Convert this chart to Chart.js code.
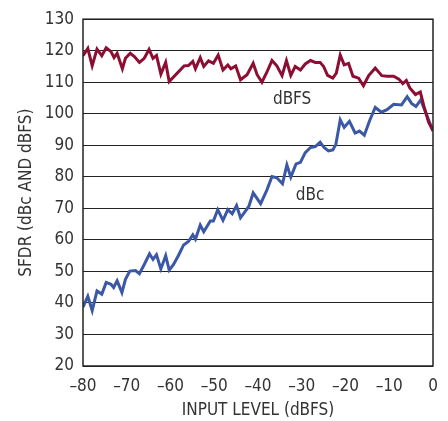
<!DOCTYPE html>
<html>
<head>
<meta charset="utf-8">
<script src="https://cdn.jsdelivr.net/npm/chart.js@4/dist/chart.umd.min.js"></script>
<style>
  html, body { margin: 0; padding: 0; background: #fff; }
  #wrap { width: 448px; height: 421px; }
</style>
</head>
<body>
<div id="wrap"><canvas id="sfdrChart" width="448" height="421"></canvas></div>
<script>
// values (input level in dBFS, SFDR in dB)
const dbfsX = [-80, -78.9, -77.9, -76.8, -75.7, -74.7, -73.6, -72.9, -72.2, -71, -70.3, -69.2, -68.2, -67.1, -66, -64.9, -64, -63.2, -62.2, -61.1, -60.3,
  -56.9, -55.9, -54.9, -54.3, -53.2, -52.4, -51.3, -50.2, -49.1, -48, -46.9, -46.2, -45.1, -44, -42.5, -41.1, -40.2, -39.1, -38, -36.8, -35.7,
  -34.5, -33.5, -32.5, -31.5, -30.3, -29.2, -28, -26.9, -25.8, -25, -24.1, -22.9, -22.1, -21.2, -20.3, -19.3, -18.3, -17, -15.9, -14.7,
  -13.2, -11.7, -10.5, -9, -7.8, -6.9, -6.1, -5.3, -4, -2.9, -2.1, -1, 0];
const dbfsY = [118.4, 120.7, 115.2, 120.5, 118.4, 120.9, 119.7, 117.8, 119.2, 114.3, 117.6, 119.2, 118.1, 116.3, 117.6, 120.4, 117.6, 118.5, 112.6, 116.3, 110.2,
  115.2, 115.3, 116.6, 114.3, 117.8, 115, 116.8, 116, 118.6, 113.9, 115.5, 114.3, 115.2, 110.8, 112.4, 116, 112.4, 110, 113.1, 116.9, 115.2,
  112.1, 116.9, 112.2, 115, 113.9, 115.8, 116.9, 116.3, 116.3, 115, 112.2, 111.3, 112.9, 118.6, 115.5, 116, 111.9, 111.3, 108.9, 112.1,
  114.5, 112.1, 111.9, 111.9, 111, 109.6, 110.6, 108.2, 106.1, 106.9, 102.5, 97.3, 94.7];

const dbcX = [-80, -78.9, -77.9, -76.8, -75.7, -74.7, -73.6, -73, -72.2, -71.1, -70.3, -69.3, -68, -67.1, -66, -64.8, -64, -63.2, -62.2, -61.1, -60.3,
  -59.3, -58.1, -57, -55.9, -54.9, -54.3, -53.2, -52.4, -50.9, -50.2, -49.2, -48, -46.9, -45.9, -44.9, -44, -42.1, -41.1, -39.4, -38, -36.8,
  -35.7, -34.4, -33.4, -32.5, -31.3, -30.3, -29.2, -28, -26.9, -25.8, -24.9, -23.9, -22.9, -22.2, -21.2, -20.3, -19.1, -17.8, -16.8, -15.7,
  -14.5, -13.2, -11.8, -10.5, -9, -7.2, -5.9, -4.9, -3.9, -2.8, 0];
const dbcY = [38.7, 42.1, 37.6, 43.8, 42.8, 46.5, 45.9, 44.9, 47, 43.3, 47.5, 50.1, 50.3, 49.3, 52.2, 55.6, 53.8, 55.3, 50.8, 55, 50.4,
  52.2, 55.3, 58.4, 59.5, 61.6, 60.2, 64.7, 62.6, 66, 66, 69.6, 66.2, 69.6, 68.3, 70.9, 67, 70.6, 74.9, 71.5, 75.7, 80.1,
  79.7, 77.8, 83.8, 79.9, 84.1, 84.6, 87.7, 89.3, 89.6, 91, 89.3, 88.2, 88.5, 90.3, 98.1, 95.7, 97.6, 93.9, 94.5, 93.2,
  97.8, 102, 100.5, 101.3, 103, 102.8, 105.4, 103.3, 102.3, 104.4, 94.5];

// series labels placed in data units
const seriesLabels = [
  { text: "dBFS", x: -32.2, y: 104.6 },
  { text: "dBc", x: -28.1, y: 74.2 }
];

const FONT = "'Liberation Sans Narrow', 'DejaVu Sans Condensed', 'Arial Narrow', sans-serif";
const TEXT = "#333";

const toPoints = (xs, ys) => xs.map((x, i) => ({ x: x, y: ys[i] }));

// box around plot + in-plot series names
const frameAndLabels = {
  id: "frameAndLabels",
  afterDatasetsDraw(chart) {
    const { ctx, chartArea: a, scales } = chart;
    ctx.save();
    ctx.strokeStyle = "#222";
    ctx.lineWidth = 1.5;
    ctx.strokeRect(a.left, a.top, a.right - a.left, a.bottom - a.top);
    ctx.fillStyle = TEXT;
    ctx.font = "17px " + FONT;
    ctx.textAlign = "center";
    ctx.textBaseline = "middle";
    seriesLabels.forEach((l) => {
      ctx.fillText(l.text, scales.x.getPixelForValue(l.x), scales.y.getPixelForValue(l.y));
    });
    ctx.restore();
  }
};

const ctx = document.getElementById("sfdrChart").getContext("2d");
const myChart = new Chart(ctx, {
  type: "line",
  data: {
    datasets: [
      {
        label: "dBFS",
        data: toPoints(dbfsX, dbfsY),
        borderColor: "#8e0d33",
        borderWidth: 3,
        pointRadius: 0,
        tension: 0,
        fill: false
      },
      {
        label: "dBc",
        data: toPoints(dbcX, dbcY),
        borderColor: "#3a58a6",
        borderWidth: 3,
        pointRadius: 0,
        tension: 0,
        fill: false
      }
    ]
  },
  options: {
    responsive: false,
    animation: false,
    layout: { padding: { top: 15, right: 15, left: 0, bottom: 0 } },
    plugins: { legend: { display: false }, tooltip: { enabled: false } },
    scales: {
      x: {
        type: "linear",
        min: -80,
        max: 0,
        grid: { display: false, drawTicks: false },
        border: { display: false },
        ticks: {
          stepSize: 10,
          padding: 10,
          color: TEXT,
          font: { family: FONT, size: 17 },
          maxRotation: 0,
          callback: (v) => String(v).replace("-", "\u2013")
        },
        title: {
          display: true,
          text: "INPUT LEVEL (dBFS)",
          color: TEXT,
          font: { family: FONT, size: 17 },
          padding: { top: 0, bottom: 0 }
        },
        afterFit: (s) => { s.height = 55; }
      },
      y: {
        min: 20,
        max: 130,
        grid: { color: "#222", lineWidth: 1, drawTicks: false },
        border: { display: false },
        ticks: {
          stepSize: 10,
          padding: 9,
          color: TEXT,
          font: { family: FONT, size: 17 }
        },
        title: {
          display: true,
          text: "SFDR (dBc AND dBFS)",
          color: TEXT,
          font: { family: FONT, size: 17 },
          padding: { top: 16, bottom: 0 }
        },
        afterFit: (s) => { s.width = 83; }
      }
    }
  },
  plugins: [frameAndLabels]
});
</script>
</body>
</html>
